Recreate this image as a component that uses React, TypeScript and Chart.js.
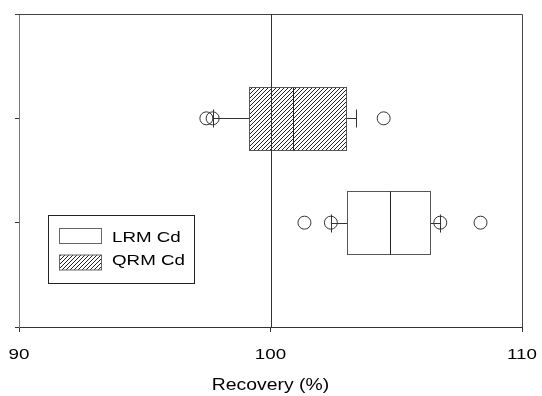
import React, { useEffect, useRef } from "react";
import { Chart, registerables } from "chart.js";
Chart.register(...registerables);

const categories = ["QRM Cd", "LRM Cd"];
const categoryPos = [1, 2];
const q1 = [99.15, 103.05];
const median = [100.9, 104.75];
const q3 = [103.0, 106.35];
const whiskerLow = [97.7, 102.4];
const whiskerHigh = [103.4, 106.75];
const outliers = [
  [97.45, 97.7, 104.5],
  [101.35, 102.4, 106.75, 108.35],
];
const xTicks = [90, 100, 110];
const xTitle = "Recovery (%)";
const legendLabels = ["LRM Cd", "QRM Cd"];

const FONT = "'Liberation Sans', Arial, Helvetica, sans-serif";
const STRETCH = 1.21;

function makeHatch(ctx: CanvasRenderingContext2D) {
  const c = document.createElement("canvas");
  c.width = 4;
  c.height = 4;
  const g = c.getContext("2d")!;
  g.fillStyle = "#fff";
  g.fillRect(0, 0, 4, 4);
  g.strokeStyle = "#222";
  g.lineWidth = 1;
  g.beginPath();
  g.moveTo(0, 4);
  g.lineTo(4, 0);
  g.moveTo(-1, 1);
  g.lineTo(1, -1);
  g.moveTo(3, 5);
  g.lineTo(5, 3);
  g.stroke();
  return ctx.createPattern(c, "repeat")!;
}

function wideText(
  ctx: CanvasRenderingContext2D,
  text: string,
  x: number,
  baseline: number,
  size: number,
  align: "left" | "center"
) {
  ctx.save();
  ctx.font = `${size}px ${FONT}`;
  ctx.textAlign = "left";
  ctx.textBaseline = "alphabetic";
  ctx.fillStyle = "#000";
  const w = ctx.measureText(text).width * STRETCH;
  const left = align === "center" ? x - w / 2 : x;
  ctx.translate(left, baseline);
  ctx.scale(STRETCH, 1);
  ctx.fillText(text, 0, 0);
  ctx.restore();
}

export default function App() {
  const ref = useRef<HTMLCanvasElement>(null);
  useEffect(() => {
    const canvas = ref.current!;
    const ctx0 = canvas.getContext("2d")!;
    const hatch = makeHatch(ctx0);
    const fills = [hatch, "#fff"];

    const boxPlugin = {
      id: "boxes",
      beforeDatasetsDraw(chart: any) {
        const ctx = chart.ctx as CanvasRenderingContext2D;
        const xs = chart.scales.x;
        const ys = chart.scales.y;
        const ca = chart.chartArea;
        ctx.save();
        // frame top/right
        ctx.strokeStyle = "#444";
        ctx.lineWidth = 1;
        ctx.beginPath();
        ctx.moveTo(Math.round(ca.left) - 4, Math.round(ca.top) + 0.5);
        ctx.lineTo(Math.round(ca.right) + 0.5, Math.round(ca.top) + 0.5);
        ctx.lineTo(Math.round(ca.right) + 0.5, Math.round(ca.bottom));
        ctx.stroke();
        for (let i = 0; i < categories.length; i++) {
          const yc = ys.getPixelForValue(categoryPos[i]);
          const half = Math.abs(ys.getPixelForValue(0.305) - ys.getPixelForValue(0));
          const x1 = xs.getPixelForValue(q1[i]);
          const x3 = xs.getPixelForValue(q3[i]);
          const xm = xs.getPixelForValue(median[i]);
          const wl = xs.getPixelForValue(whiskerLow[i]);
          const wh = xs.getPixelForValue(whiskerHigh[i]);
          const top = Math.round(yc - half) + 0.5;
          const bot = Math.round(yc + half) + 0.5;
          const yl = Math.round(yc) + 0.5;
          ctx.strokeStyle = "#333";
          ctx.lineWidth = 1;
          ctx.beginPath();
          ctx.moveTo(wl, yl);
          ctx.lineTo(x1, yl);
          ctx.moveTo(x3, yl);
          ctx.lineTo(wh, yl);
          ctx.moveTo(Math.round(wl) + 0.5, yl - 9);
          ctx.lineTo(Math.round(wl) + 0.5, yl + 9);
          ctx.moveTo(Math.round(wh) + 0.5, yl - 9);
          ctx.lineTo(Math.round(wh) + 0.5, yl + 9);
          ctx.stroke();
          ctx.fillStyle = fills[i] as any;
          const L = Math.round(x1) + 0.5;
          const R = Math.round(x3) + 0.5;
          ctx.fillRect(L, top, R - L, bot - top);
          ctx.strokeStyle = "#555";
          ctx.strokeRect(L, top, R - L, bot - top);
          ctx.strokeStyle = "#222";
          ctx.beginPath();
          ctx.moveTo(Math.round(xm) + 0.5, top);
          ctx.lineTo(Math.round(xm) + 0.5, bot);
          ctx.stroke();
        }
        // reference line at 100 drawn over hatch
        const x100 = Math.round(xs.getPixelForValue(100)) + 0.5;
        ctx.strokeStyle = "#333";
        ctx.beginPath();
        ctx.moveTo(x100, ca.top);
        ctx.lineTo(x100, ca.bottom);
        ctx.stroke();
        ctx.restore();
      },
      afterDraw(chart: any) {
        const ctx = chart.ctx as CanvasRenderingContext2D;
        const xs = chart.scales.x;
        const ca = chart.chartArea;
        // tick labels and axis title (horizontally widened like the reference)
        xTicks.forEach((v) => {
          wideText(ctx, String(v), xs.getPixelForValue(v), 359, 15.5, "center");
        });
        wideText(ctx, xTitle, (ca.left + ca.right) / 2, 390, 16, "center");
        // legend
        ctx.save();
        ctx.fillStyle = "#fff";
        ctx.fillRect(48.5, 215.5, 146, 68);
        ctx.strokeStyle = "#222";
        ctx.lineWidth = 1;
        ctx.strokeRect(48.5, 215.5, 146, 68);
        const legendFills = ["#fff", hatch];
        const rows = [236, 262.5];
        const baselines = [242, 265];
        for (let i = 0; i < 2; i++) {
          ctx.fillStyle = legendFills[i] as any;
          ctx.fillRect(59.5, rows[i] - 7.5, 42, 15);
          ctx.strokeStyle = "#666";
          ctx.strokeRect(59.5, rows[i] - 7.5, 42, 15);
          wideText(ctx, legendLabels[i], 112, baselines[i], 15.5, "left");
        }
        ctx.restore();
      },
    };

    const outlierData: { x: number; y: number }[] = [];
    outliers.forEach((arr, i) => arr.forEach((v) => outlierData.push({ x: v, y: categoryPos[i] })));

    const chart = new Chart(canvas, {
      type: "scatter",
      data: {
        datasets: [
          {
            data: outlierData,
            pointStyle: "circle",
            pointRadius: 6.5,
            pointBackgroundColor: "rgba(0,0,0,0)",
            pointBorderColor: "#333",
            pointBorderWidth: 1,
          },
        ],
      },
      options: {
        animation: false,
        responsive: false,
        events: [],
        layout: { padding: { top: 14, right: 20, left: 0, bottom: 0 } },
        plugins: { legend: { display: false }, tooltip: { enabled: false } },
        scales: {
          x: {
            type: "linear",
            min: 90,
            max: 110,
            afterBuildTicks: (s: any) => {
              s.ticks = xTicks.map((v) => ({ value: v }));
            },
            afterFit: (s: any) => {
              s.height = 69;
              s.paddingLeft = 0;
              s.paddingRight = 0;
            },
            grid: {
              drawOnChartArea: false,
              tickLength: 5,
              tickColor: "#333",
            },
            border: { color: "#333" },
            ticks: {
              color: "rgba(0,0,0,0)",
              font: { family: FONT, size: 15 },
              maxRotation: 0,
            },
          },
          y: {
            type: "linear",
            min: 0,
            max: 3,
            reverse: true,
            afterBuildTicks: (s: any) => {
              s.ticks = [0, 1, 2, 3].map((v) => ({ value: v }));
            },
            afterFit: (s: any) => {
              s.width = 19;
              s.paddingTop = 0;
              s.paddingBottom = 0;
            },
            grid: { drawOnChartArea: false, tickLength: 4, tickColor: "#333" },
            border: { color: "#777" },
            ticks: { display: true, callback: () => "" },
          },
        },
      },
      plugins: [boxPlugin],
    });
    return () => chart.destroy();
  }, []);
  return (
    <div style={{ position: "absolute", left: 0, top: 0, width: 542, height: 396, background: "#fff" }}>
      <canvas ref={ref} width={542} height={396} style={{ width: 542, height: 396 }} />
    </div>
  );
}
